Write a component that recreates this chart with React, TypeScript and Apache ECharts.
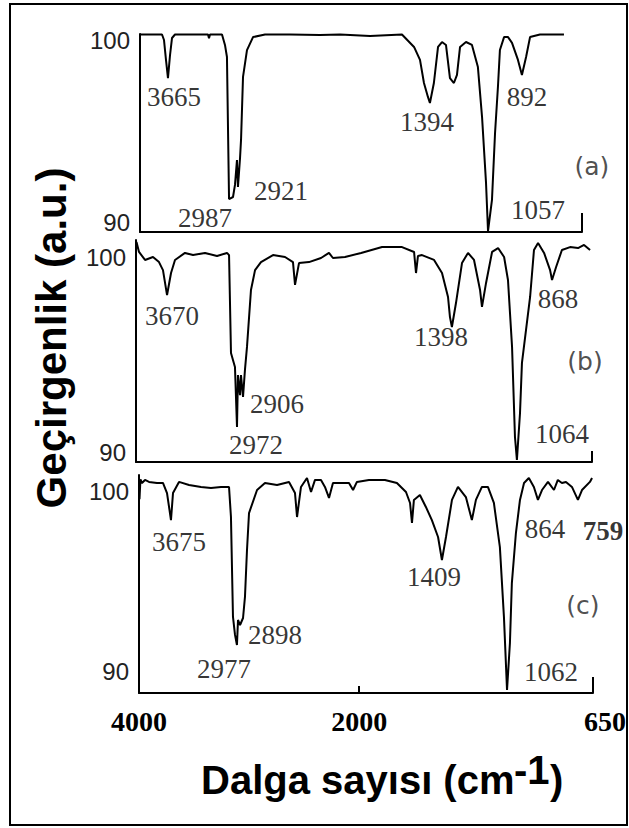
import { useEffect, useRef } from 'react';
import * as echarts from 'echarts';

// ---- spectrum (a) ----
const waveA = [4000, 3756, 3734, 3712, 3690, 3667, 3645, 3612, 3246, 3235, 3224, 3091, 3058, 3036, 3013, 2969, 2947, 2925, 2914, 2891, 2880, 2858, 2814, 2747, 2614, 2337, 2005, 1891, 1725, 1548, 1481, 1448, 1426, 1404, 1393, 1371, 1348, 1326, 1304, 1282, 1260, 1243, 1226, 1193, 1160, 1127, 1104, 1082, 1071, 1049, 1032, 1016, 1005, 982, 960, 938, 905, 883, 860, 838, 783, 650];
const transA = [100.3, 100.3, 100.0, 98.91, 97.92, 99.18, 100.11, 100.3, 100.3, 100.1, 100.3, 100.3, 99.73, 99.07, 91.31, 91.42, 92.08, 93.44, 91.97, 93.55, 94.54, 97.98, 99.45, 100.16, 100.3, 100.3, 100.27, 100.3, 100.22, 100.3, 99.62, 98.91, 97.65, 96.89, 96.56, 97.65, 99.62, 99.89, 99.73, 97.92, 97.65, 98.09, 99.62, 99.89, 99.73, 98.52, 95.79, 92.19, 89.56, 91.26, 94.92, 97.43, 99.45, 100.16, 100.16, 99.84, 98.91, 98.09, 99.07, 100.16, 100.3, 100.3];

// ---- spectrum (b) ----
const waveB = [3995, 3969, 3907, 3825, 3763, 3722, 3680, 3639, 3598, 3495, 3412, 3289, 3165, 3062, 3041, 3021, 2980, 2959, 2949, 2928, 2918, 2897, 2877, 2856, 2815, 2773, 2712, 2588, 2464, 2382, 2361, 2320, 2217, 2093, 2011, 1985, 1923, 1840, 1732, 1629, 1567, 1557, 1547, 1526, 1464, 1423, 1392, 1382, 1372, 1351, 1320, 1289, 1258, 1227, 1217, 1196, 1165, 1134, 1103, 1083, 1062, 1047, 1037, 1021, 1011, 990, 969, 949, 928, 897, 866, 856, 835, 805, 763, 722, 691, 660];
const transB = [100.82, 100.31, 99.9, 100.05, 99.79, 99.38, 98.1, 99.23, 99.9, 100.26, 100.15, 100.26, 100.1, 100.26, 100.15, 95.13, 94.41, 91.33, 94.0, 92.97, 94.0, 92.87, 94.26, 95.44, 98.36, 99.38, 99.79, 100.15, 100.05, 99.79, 98.62, 99.74, 99.79, 100.0, 100.26, 100.0, 100.05, 100.26, 100.56, 100.56, 100.31, 99.23, 100.1, 100.15, 99.9, 99.23, 98.0, 96.97, 96.46, 97.69, 99.74, 100.26, 99.9, 98.36, 97.49, 98.72, 100.31, 100.51, 100.05, 98.87, 95.44, 90.82, 89.64, 92.05, 94.62, 96.31, 98.0, 100.41, 100.77, 100.26, 99.38, 98.87, 99.54, 100.41, 100.56, 100.51, 100.67, 100.41];

// ---- spectrum (c) ----
const waveC = [4000, 3995, 3985, 3969, 3938, 3896, 3814, 3752, 3710, 3669, 3648, 3586, 3482, 3358, 3255, 3151, 3068, 3048, 3027, 3006, 2986, 2975, 2954, 2923, 2903, 2882, 2861, 2778, 2696, 2571, 2447, 2385, 2364, 2323, 2261, 2219, 2178, 2116, 2075, 2033, 1996, 1955, 1913, 1892, 1872, 1810, 1727, 1665, 1618, 1597, 1587, 1577, 1546, 1515, 1484, 1452, 1432, 1411, 1380, 1349, 1308, 1277, 1256, 1225, 1194, 1163, 1132, 1111, 1095, 1080, 1070, 1049, 1028, 1007, 982, 956, 935, 914, 883, 852, 832, 811, 790, 759, 728, 707, 666, 655];
const transC = [100.83, 99.6, 100.7, 100.5, 100.67, 100.56, 100.5, 100.5, 99.94, 98.44, 99.94, 100.56, 100.39, 100.28, 100.22, 100.28, 100.28, 98.61, 93.06, 92.06, 91.5, 92.89, 92.61, 93.0, 94.17, 96.78, 98.83, 100.11, 100.5, 100.39, 100.56, 99.94, 98.61, 100.28, 100.78, 100.0, 100.67, 100.67, 100.28, 99.67, 100.5, 100.5, 100.5, 100.11, 100.56, 100.67, 100.67, 100.5, 100.0, 99.39, 98.28, 99.56, 99.83, 99.17, 98.44, 97.5, 96.22, 97.5, 99.56, 100.28, 99.72, 98.44, 99.56, 100.28, 100.28, 99.39, 96.94, 93.06, 89.0, 91.61, 94.94, 97.72, 99.56, 100.5, 100.78, 100.28, 99.56, 100.11, 100.56, 100.11, 100.67, 100.5, 100.56, 100.28, 99.56, 100.11, 100.56, 100.78];

// ---- peak annotations (text, wavenumber, transmittance) ----
const peakTextA = ['3665', '2987', '2921', '1394', '892', '1057', '(a)'];
const peakWaveA = [3623, 3279, 2437, 1409, 855, 794, 495];
const peakTransA = [96.89, 90.27, 91.75, 95.52, 96.89, 90.71, 93.11];
const peakTextB = ['3670', '2906', '2972', '1398', '868', '1064', '(b)'];
const peakWaveB = [3629, 2547, 2763, 1428, 825, 805, 686];
const peakTransB = [97.03, 92.51, 90.41, 95.95, 97.9, 90.97, 94.67];
const peakTextC = ['3675', '2898', '2977', '1409', '864', '759', '1062', '(c)'];
const peakWaveC = [3586, 2592, 3120, 1473, 899, 598, 868, 702];
const peakTransC = [97.22, 92.06, 90.17, 95.28, 97.94, 97.83, 90.0, 93.67];

// ---- axis ticks ----
const yTickValues = [90, 100];
const xTickLabels = ['4000', '2000', '650'];
const xTickAxisPos = [0, 2280, 4700];

// FTIR axis: 4000-2000 at 1x, below 2000 at 2x scale
function toAxis(wn: number) {
  return wn >= 2000 ? 4000 - wn : 2000 + 2 * (2000 - wn);
}

export default function App() {
  const ref = useRef<HTMLDivElement>(null);
  useEffect(() => {
    const chart = echarts.init(ref.current!, undefined, { renderer: 'svg', width: 629, height: 828 });
    const ink = '#000';
    const grids = [
      { left: 140, top: 34, width: 442, height: 198 },
      { left: 136, top: 240, width: 456, height: 222 },
      { left: 139, top: 475, width: 454, height: 218 },
    ];
    const xMax = [4900, 4700, 4700];
    const endTick = [19, 11, 16];
    const yMin = [89.508, 89.538, 88.833];
    const yMax = [100.328, 100.923, 100.944];
    const specs = [
      [waveA, transA],
      [waveB, transB],
      [waveC, transC],
    ];
    const peaks = [
      [peakTextA, peakWaveA, peakTransA],
      [peakTextB, peakWaveB, peakTransB],
      [peakTextC, peakWaveC, peakTransC],
    ] as [string[], number[], number[]][];

    const xAxis: any[] = grids.map((_, i) => ({
      type: 'value',
      gridIndex: i,
      position: 'bottom',
      min: 0,
      max: xMax[i],
      axisLine: { show: true, lineStyle: { color: ink, width: 2 } },
      axisTick: { show: true, inside: true, customValues: [xMax[i]], length: endTick[i], lineStyle: { color: ink, width: 2 } },
      axisLabel:
        i === 2
          ? {
              show: true,
              customValues: xTickAxisPos,
              margin: 14,
              fontFamily: 'Liberation Serif',
              fontWeight: 'bold',
              fontSize: 28,
              color: ink,
              formatter: (v: number) => {
                const k = xTickAxisPos.indexOf(v);
                const t = k >= 0 ? xTickLabels[k] : '';
                return k === 2 ? `{r|${t}}` : t;
              },
              rich: { r: { fontFamily: 'Liberation Serif', fontWeight: 'bold', fontSize: 28, color: ink, padding: [0, 0, 0, 24] } },
            }
          : { show: false },
      splitLine: { show: false },
    }));
    xAxis.push({
      type: 'value',
      gridIndex: 2,
      position: 'bottom',
      offset: 0,
      min: 0,
      max: 4700,
      axisLine: { show: false },
      axisTick: { show: true, inside: true, customValues: [xTickAxisPos[1]], length: 7, lineStyle: { color: ink, width: 2 } },
      axisLabel: { show: false },
      splitLine: { show: false },
    });

    const yAxis = grids.map((_, i) => ({
      type: 'value',
      gridIndex: i,
      min: yMin[i],
      max: yMax[i],
      axisLine: { show: true, lineStyle: { color: ink, width: 2 } },
      axisTick: { show: false },
      splitLine: { show: false },
      axisLabel: { show: true, customValues: yTickValues, margin: 10, fontFamily: 'Liberation Sans', fontSize: 24, color: '#222' },
    }));

    const series: any[] = [];
    specs.forEach(([w, t], i) => {
      series.push({
        type: 'line',
        xAxisIndex: i,
        yAxisIndex: i,
        data: w.map((wn, k) => [toAxis(wn), t[k]]),
        symbol: 'none',
        lineStyle: { color: ink, width: 2 },
        clip: false,
        silent: true,
      });
    });
    peaks.forEach(([txt, w, t], i) => {
      series.push({
        type: 'scatter',
        xAxisIndex: i,
        yAxisIndex: i,
        symbolSize: 0.1,
        itemStyle: { color: 'transparent' },
        clip: false,
        silent: true,
        label: { show: true, position: 'inside', formatter: '{b}', fontFamily: 'Liberation Serif', fontSize: 27, color: ink },
        data: txt.map((s, k) => ({
          name: s,
          value: [toAxis(w[k]), t[k]],
          label: s.startsWith('(')
            ? { fontFamily: 'DejaVu Sans', fontSize: 25, color: '#222' }
            : s === '759'
            ? { fontWeight: 'bold' }
            : {},
        })),
      });
    });

    const titleFont = 'bold 40px "Liberation Sans"';
    chart.setOption({
      animation: false,
      backgroundColor: '#fff',
      grid: grids,
      xAxis,
      yAxis,
      series,
      graphic: [
        { type: 'rect', shape: { x: 10, y: 4, width: 617, height: 821 }, style: { fill: 'none', stroke: ink, lineWidth: 2 } },
        {
          type: 'text',
          x: 51,
          y: 338,
          rotation: Math.PI / 2,
          style: { text: 'Geçirgenlik (a.u.)', font: 'bold 42px "Liberation Sans"', fill: '#000', textAlign: 'center', textVerticalAlign: 'middle' },
        },
        { type: 'text', x: 201, y: 780, style: { text: 'Dalga sayısı (cm', font: titleFont, fill: '#000', textAlign: 'left', textVerticalAlign: 'middle' } },
        { type: 'text', x: 514, y: 770, style: { text: '-1', font: titleFont, fill: '#000', textAlign: 'left', textVerticalAlign: 'middle' } },
        { type: 'text', x: 550, y: 780, style: { text: ')', font: titleFont, fill: '#000', textAlign: 'left', textVerticalAlign: 'middle' } },
      ],
    });
    return () => chart.dispose();
  }, []);
  return <div ref={ref} style={{ position: 'absolute', left: 0, top: 0, width: 629, height: 828, background: '#fff' }} />;
}
